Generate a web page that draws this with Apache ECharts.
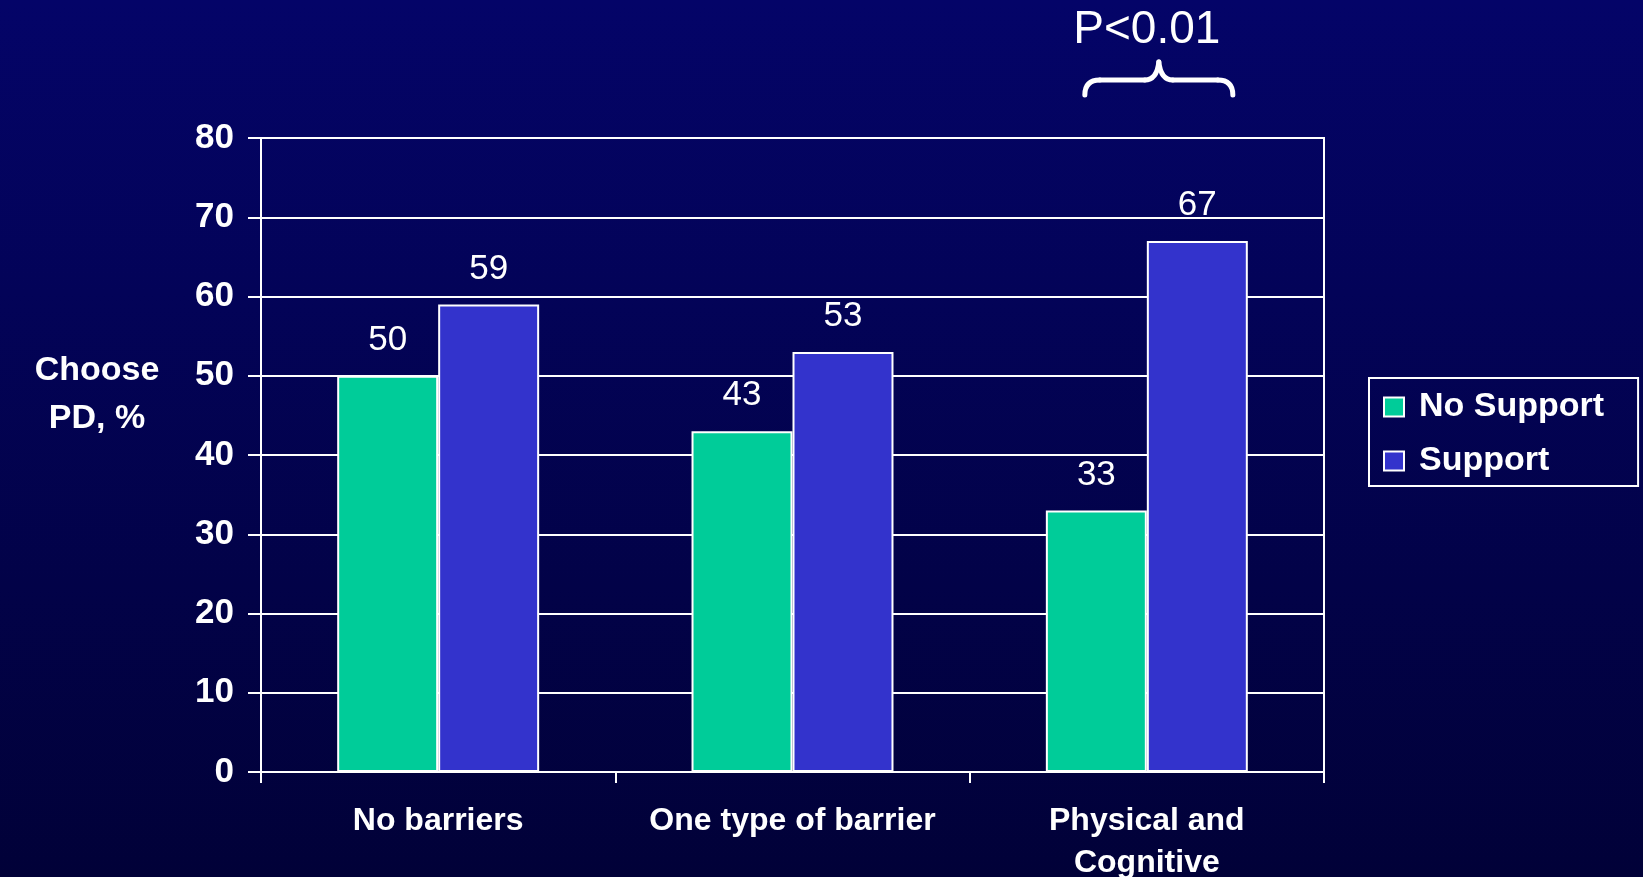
<!DOCTYPE html>
<html>
<head>
<meta charset="utf-8">
<title>Choose PD by barrier type and support</title>
<script src="https://cdn.jsdelivr.net/npm/echarts@6/dist/echarts.min.js"></script>
<style>
  html, body { margin: 0; padding: 0; background: #01013a; }
  #chart { width: 1643px; height: 877px; }
</style>
</head>
<body>
<div id="chart"></div>
<script>
// Barrier groups on the x axis
var categories = ['No barriers', 'One type of barrier', 'Physical and\nCognitive'];
// Share choosing PD, percent
var noSupport = [50, 43, 33];
var support = [59, 53, 67];
// Value axis range and step
var yMin = 0, yMax = 80, yStep = 10;
var seriesNames = ['No Support', 'Support'];
var significance = 'P<0.01';

var FONT = '"Liberation Sans", Arial, sans-serif';
var WHITE = '#ffffff';

var chart = echarts.init(document.getElementById('chart'), null, { renderer: 'canvas' });

var labelStyle = {
  show: true,
  position: 'top',
  distance: 18,
  color: WHITE,
  fontFamily: FONT,
  fontSize: 35
};

chart.setOption({
  animation: false,
  backgroundColor: new echarts.graphic.LinearGradient(0, 0, 0, 1, [
    { offset: 0, color: '#040468' },
    { offset: 1, color: '#010138' }
  ]),
  grid: {
    left: 261, top: 138, width: 1063, height: 634,
    outerBoundsMode: 'none',
    containLabel: false,
    show: true,
    borderColor: WHITE,
    borderWidth: 2,
    backgroundColor: 'transparent'
  },
  legend: {
    orient: 'vertical',
    left: 1369,
    top: 378,
    padding: [12, 34, 8, 14],
    itemGap: 20,
    itemWidth: 20,
    itemHeight: 19,
    icon: 'rect',
    borderColor: WHITE,
    borderWidth: 2,
    data: seriesNames,
    textStyle: {
      color: WHITE,
      fontFamily: FONT,
      fontWeight: 'bold',
      fontSize: 34,
      padding: [0, 0, 0, 10]
    }
  },
  xAxis: {
    type: 'category',
    data: categories,
    boundaryGap: true,
    axisLine: { show: true, lineStyle: { color: WHITE, width: 2 } },
    axisTick: { show: true, length: 11, alignWithLabel: false, lineStyle: { color: WHITE, width: 2 } },
    axisLabel: {
      interval: 0,
      margin: 28,
      color: WHITE,
      fontFamily: FONT,
      fontWeight: 'bold',
      fontSize: 32,
      lineHeight: 42
    },
    splitLine: { show: false }
  },
  yAxis: {
    type: 'value',
    min: yMin,
    max: yMax,
    interval: yStep,
    axisLine: { show: true, lineStyle: { color: WHITE, width: 2 } },
    axisTick: { show: true, length: 13, lineStyle: { color: WHITE, width: 2 } },
    axisLabel: {
      margin: 27,
      color: WHITE,
      fontFamily: FONT,
      fontWeight: 'bold',
      fontSize: 35
    },
    splitLine: { show: true, lineStyle: { color: WHITE, width: 2 } }
  },
  series: [
    {
      name: seriesNames[0],
      type: 'bar',
      data: noSupport,
      barGap: '0%',
      barCategoryGap: '43%',
      itemStyle: { color: '#00cc99', borderColor: WHITE, borderWidth: 2 },
      label: labelStyle
    },
    {
      name: seriesNames[1],
      type: 'bar',
      data: support,
      barGap: '0%',
      barCategoryGap: '43%',
      itemStyle: { color: '#3333cc', borderColor: WHITE, borderWidth: 2 },
      label: labelStyle
    }
  ]
});

// Axis title and the significance bracket over the last group
var cx = chart.convertToPixel({ xAxisIndex: 0 }, 2);
var peakX = cx + 12;
var braceStyle = { stroke: WHITE, lineWidth: 5, lineCap: 'round', fill: null };

function curve(x1, y1, cpx, cpy, x2, y2) {
  return { type: 'bezierCurve', shape: { x1: x1, y1: y1, cpx1: cpx, cpy1: cpy, x2: x2, y2: y2 }, style: braceStyle };
}
function seg(x1, y1, x2, y2) {
  return { type: 'line', shape: { x1: x1, y1: y1, x2: x2, y2: y2 }, style: braceStyle };
}

chart.setOption({
  graphic: [
    {
      type: 'text',
      x: 97,
      y: 395,
      style: {
        text: 'Choose\nPD, %',
        fill: WHITE,
        font: 'bold 34px ' + FONT,
        lineHeight: 48,
        align: 'center',
        verticalAlign: 'middle'
      }
    },
    {
      type: 'text',
      x: cx,
      y: 30,
      style: {
        text: significance,
        fill: WHITE,
        font: '46px ' + FONT,
        align: 'center',
        verticalAlign: 'middle'
      }
    },
    {
      type: 'group',
      x: peakX,
      y: 62,
      children: [
        curve(-74, 33, -74, 18, -59, 18),
        seg(-59, 18, -14, 18),
        curve(-14, 18, -2, 18, 0, 0),
        curve(0, 0, 2, 18, 14, 18),
        seg(14, 18, 59, 18),
        curve(59, 18, 74, 18, 74, 33)
      ]
    }
  ]
});
</script>
</body>
</html>
